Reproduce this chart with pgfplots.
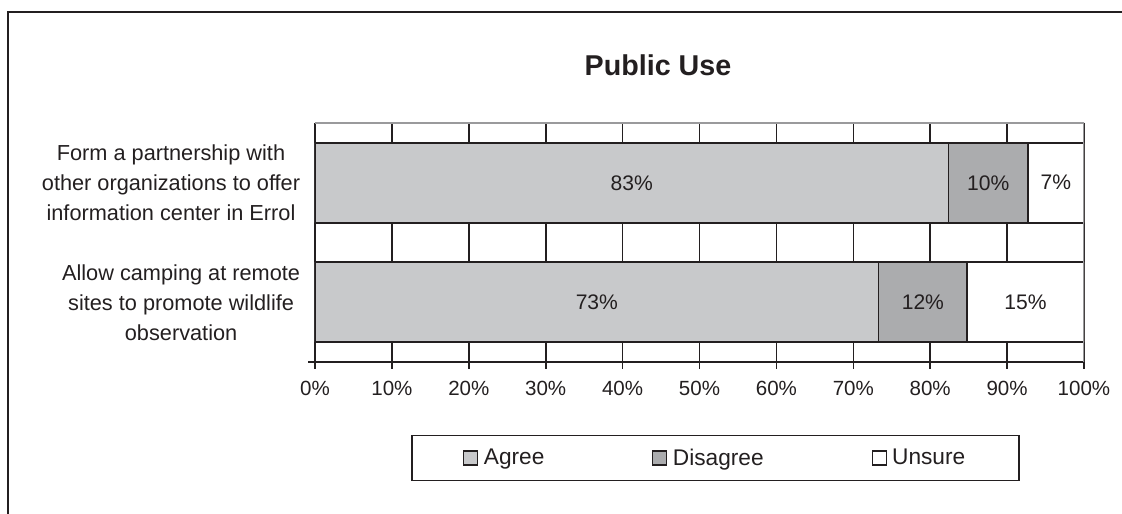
\documentclass[border=0pt]{standalone}
\usepackage{pgfplots}
\pgfplotsset{compat=1.18}
\usepackage{pgfplotstable}
\usepackage{fontspec}
\setmainfont{Liberation Sans}

\definecolor{agree}{HTML}{C8C9CB}
\definecolor{disagree}{HTML}{ABACAE}
\definecolor{ink}{HTML}{231F20}
\definecolor{edge}{HTML}{9A9A9C}

\newcommand{\labelfont}{\fontsize{16.3pt}{22.5pt}\selectfont}
\newcommand{\tickfont}{\fontsize{15.4pt}{18pt}\selectfont}
\newcommand{\barfont}{\fontsize{15.8pt}{18pt}\selectfont}
\newcommand{\legfont}{\fontsize{17pt}{20pt}\selectfont}
\newcommand{\titlefont}{\fontsize{21.5pt}{25pt}\selectfont\bfseries}

% y = 1.5 : partnership, y = 0.5 : camping ; v = bar length, lab = printed label
\pgfplotstableread{
y v lab
1.5 82.4 83
0.5 73.3 73
}\agreetab
\pgfplotstableread{
y v lab
1.5 10.3 10
0.5 11.5 12
}\disagreetab
\pgfplotstableread{
y v lab
1.5 7.3 7
0.5 15.2 15
}\unsuretab

\pgfplotsset{
  seg/.style={draw=ink, line width=1.2pt, fill=#1,
    point meta=explicit,
    nodes near coords={\pgfmathprintnumber{\pgfplotspointmeta}\%},
    every node near coord/.append style={anchor=center, font=\barfont, text=ink},
  },
}

\begin{document}
\begin{tikzpicture}[x=0.75pt,y=0.75pt]
\useasboundingbox (0,0) rectangle (1122,514);
\draw[ink, line width=1.5pt] (8,-20) -- (8,502) -- (1140,502);
\begin{axis}[
  at={(236.25pt,114pt)}, anchor=south west,
  scale only axis, width=576.75pt, height=179.25pt,
  xbar stacked, bar width=60pt,
  xmin=0, xmax=100, ymin=0, ymax=2,
  /pgf/number format/assume math mode=true,
  axis x line*=bottom, axis y line*=left,
  axis line style={ink, line width=1.2pt},
  xtick={0,10,...,100},
  xticklabels={0\%,10\%,20\%,30\%,40\%,50\%,60\%,70\%,80\%,90\%,100\%},
  xmajorgrids, major grid style={ink, line width=1.2pt},
  x tick style={ink, line width=1.2pt},
  tick align=outside, major tick length=5pt,
  ytick={0.5,1.5},
  yticklabels={{Allow camping at remote\\sites to promote wildlife\\observation},
               {Form a partnership with\\other organizations to offer\\information center in Errol}},
  y tick style={draw=none},
  extra y ticks={0}, extra y tick labels={},
  extra y tick style={y tick style={draw=ink, line width=1.2pt}},
  xticklabel style={font=\tickfont, text=ink, yshift=-6pt},
  yticklabel style={font=\labelfont, text=ink, align=center, inner sep=0pt, xshift=-6pt},
  title={Public Use},
  title style={font=\titlefont, text=ink, at={(0.446,1)}, anchor=base, yshift=29.25pt},
  legend columns=3,
  legend style={at={(0.521,-0.4017)}, anchor=center, draw=ink, line width=1.2pt,
    font=\legfont, text=ink, inner xsep=38.5pt, inner ysep=8pt,
    /tikz/every even column/.append style={column sep=79pt}},
  legend image code/.code={\draw[#1, draw=ink, line width=0.8pt] (0pt,-5.25pt) rectangle (10.5pt,5.25pt);
    \path[draw=none, fill=none] (0pt,0pt) -- (13pt,0pt);},
]
\draw[edge, line width=1.2pt] (rel axis cs:0,1) -- (rel axis cs:1,1) -- (rel axis cs:1,0);
\addplot[seg=agree] table[x=v, y=y, meta=lab] {\agreetab};
\addplot[seg=disagree] table[x=v, y=y, meta=lab] {\disagreetab};
\addplot[seg=white] table[x=v, y=y, meta=lab] {\unsuretab};
\legend{Agree, Disagree, Unsure}
\end{axis}
\end{tikzpicture}
\end{document}
